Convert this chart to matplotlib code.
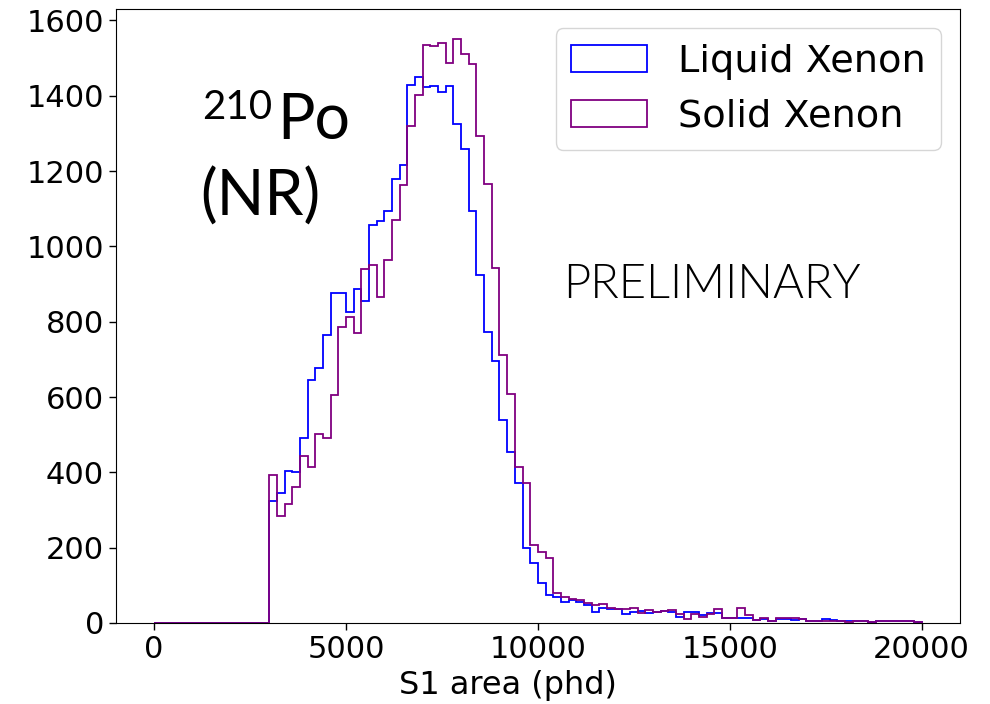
import matplotlib
matplotlib.use("Agg")
import matplotlib.pyplot as plt
import numpy as np

# histogram bins (phd), 200 wide from 0 to 20000
bin_edges = np.arange(0, 20001, 200)

# counts per bin (bins below 3000 phd are empty)
liquid_counts = [0]*15 + [
    324, 346, 404, 401, 492, 645, 676, 766, 875, 875,
    826, 888, 854, 1056, 1067, 1094, 1180, 1217, 1429, 1450,
    1423, 1426, 1410, 1426, 1326, 1258, 1094, 925, 773, 695,
    539, 455, 371, 198, 158, 105, 74, 70, 57, 61,
    57, 48, 30, 40, 36, 37, 24, 30, 33, 27,
    30, 32, 30, 17, 30, 28, 21, 26, 27, 12,
    12, 12, 12, 8, 10, 5, 11, 10, 8, 10,
    5, 4, 11, 8, 6, 4, 4, 4, 3, 4,
    4, 5, 4, 6, 3]

solid_counts = [0]*15 + [
    393, 284, 316, 360, 444, 415, 501, 492, 605, 786,
    813, 770, 941, 950, 866, 965, 1069, 1162, 1321, 1401,
    1536, 1532, 1541, 1488, 1552, 1510, 1485, 1293, 1165, 942,
    712, 608, 413, 373, 207, 189, 172, 79, 68, 63,
    61, 52, 48, 51, 41, 38, 38, 39, 26, 34,
    30, 32, 34, 23, 10, 24, 17, 23, 37, 12,
    12, 41, 21, 8, 14, 6, 12, 12, 13, 11,
    5, 5, 6, 6, 5, 3, 5, 5, 3, 4,
    6, 4, 5, 5, 3]

bin_centers = bin_edges[:-1] + 100

plt.rcParams['font.family'] = 'DejaVu Sans'

fig = plt.figure(figsize=(9.9, 7.04), dpi=100)
ax = fig.add_axes([0.1169, 0.1151, 0.8528, 0.8717])

ax.hist(bin_centers, bins=bin_edges, weights=liquid_counts, histtype='step',
        color='blue', linewidth=1.3, label='Liquid Xenon')
ax.hist(bin_centers, bins=bin_edges, weights=solid_counts, histtype='step',
        color='purple', linewidth=1.3, label='Solid Xenon')

ax.set_xlabel("S1 area (phd)", fontsize=23)
ax.xaxis.set_label_coords(0.4647, -0.077)
ax.set_xticks([0, 5000, 10000, 15000, 20000])
ax.set_yticks(np.arange(0, 1601, 200))
ax.tick_params(labelsize=22, length=5, width=1)

ax.legend(loc='upper right', fontsize=27.5)

# annotations
fig.text(202/990, 1-119/704, "210", fontsize=29, family='Lato', va='baseline')
fig.text(277/990, 1-139/704, "Po", fontsize=45, family='Lato', va='baseline')
fig.text(200/990, 1-216/704, "(NR)", fontsize=45, family='Lato', va='baseline')
fig.text(712/990, 1-285/704, "PRELIMINARY", fontsize=34, family='Lato',
         fontweight=300, ha='center', va='center')

plt.savefig("out.png", dpi=100)
